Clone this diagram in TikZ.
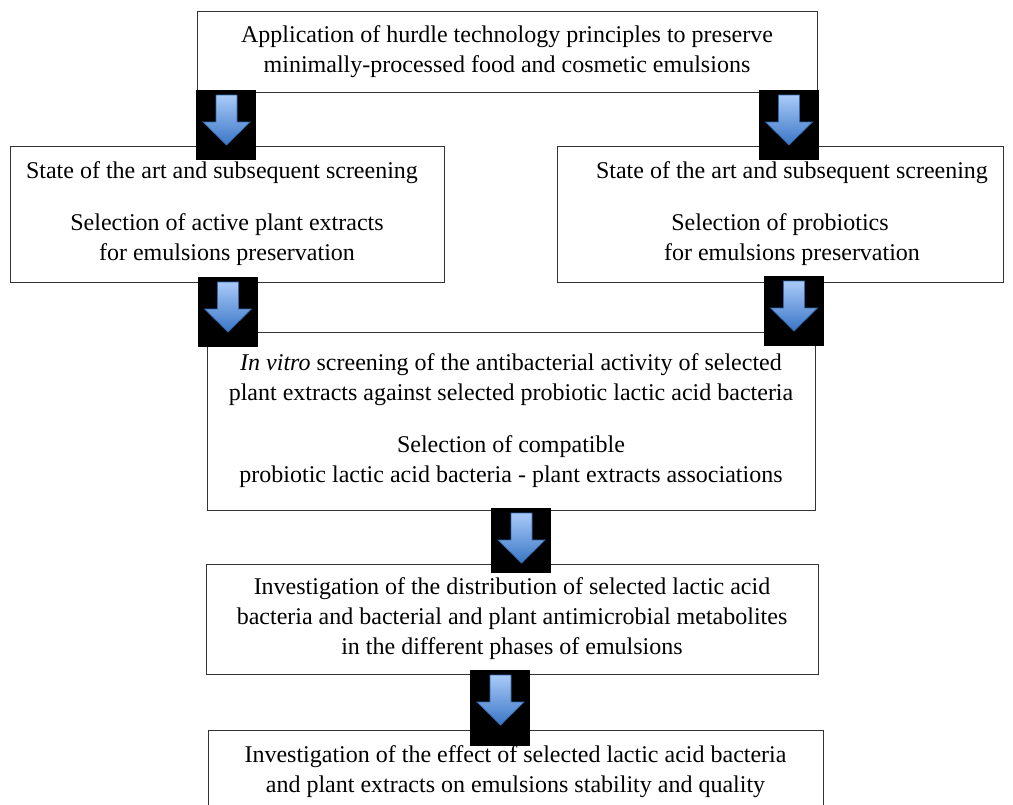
\documentclass[tikz,border=0pt]{standalone}
\usepackage{fontspec}
\setmainfont{Liberation Serif}
\usetikzlibrary{calc}
\definecolor{arrowtop}{HTML}{A9CAF8}
\definecolor{arrowbot}{HTML}{3A76C6}
\definecolor{arrowedge}{HTML}{3568AA}

\begin{document}
\begin{tikzpicture}[x=1pt, y=-1pt]
	\tikzset{stage/.style={draw=black!80, line width=1pt, fill=white, align=center,
		inner sep=0pt, font=\fontsize{24}{30}\selectfont}}
	\tikzset{blockarrow/.style={fill=black, inner sep=0pt, minimum width=60pt,
		path picture={
			\coordinate (o) at (path picture bounding box.north west);
			\shade[top color=arrowtop, bottom color=arrowbot, draw=arrowedge, line width=0.7pt]
				($(o)+(20,5)$) -- ($(o)+(41,5)$) -- ($(o)+(41,32)$) -- ($(o)+(54,32)$)
				-- ($(o)+(30.5,55)$) -- ($(o)+(7,32)$) -- ($(o)+(20,32)$) -- cycle;
			}}}

	\useasboundingbox (0,0) rectangle (1013,804);
	\clip (0,0) rectangle (1013,804);

	% boxes
	\node[stage, minimum width=620pt, minimum height=81pt] (hurdle) at (507,51.5)
		{Application of hurdle technology principles to preserve\\
		 minimally-processed food and cosmetic emulsions};

	\node[stage, minimum width=434pt, minimum height=136pt] (extracts) at (227,214)
		{State of the art and subsequent screening\hspace*{10pt}\\[22pt]
		 Selection of active plant extracts\\ for emulsions preservation};

	\node[stage, minimum width=446pt, minimum height=136pt] (probiotics) at (780,214)
		{\hspace*{24pt}State of the art and subsequent screening\\[22pt]
		 Selection of probiotics\\ \hspace*{24pt}for emulsions preservation};

	\node[stage, minimum width=608pt, minimum height=178pt] (invitro) at (511,421)
		{\textit{In vitro} screening of the antibacterial activity of selected\\
		 plant extracts against selected probiotic lactic acid bacteria\\[22pt]
		 Selection of compatible\\
		 probiotic lactic acid bacteria - plant extracts associations};

	\node[stage, minimum width=612pt, minimum height=110pt] (phases) at (512,619)
		{Investigation of the distribution of selected lactic acid\\
		 bacteria and bacterial and plant antimicrobial metabolites\\
		 in the different phases of emulsions};

	\node[stage, minimum width=615pt, anchor=north, inner ysep=15pt, text depth=40pt] (quality) at (515.5,730)
		{Investigation of the effect of selected lactic acid bacteria\\
		 and plant extracts on emulsions stability and quality};

	% block arrows between the stages
	\node[blockarrow, minimum height=70pt] (a1) at (226,125) {};
	\node[blockarrow, minimum height=70pt] (a2) at (788.5,125) {};
	\node[blockarrow, minimum height=70pt] (a3) at (227.5,312) {};
	\node[blockarrow, minimum height=70pt] (a4) at (793.5,311) {};
	\node[blockarrow, minimum height=65pt] (a5) at (521,540.5) {};
	\node[blockarrow, minimum height=76pt] (a6) at (500,708) {};
\end{tikzpicture}
\end{document}
